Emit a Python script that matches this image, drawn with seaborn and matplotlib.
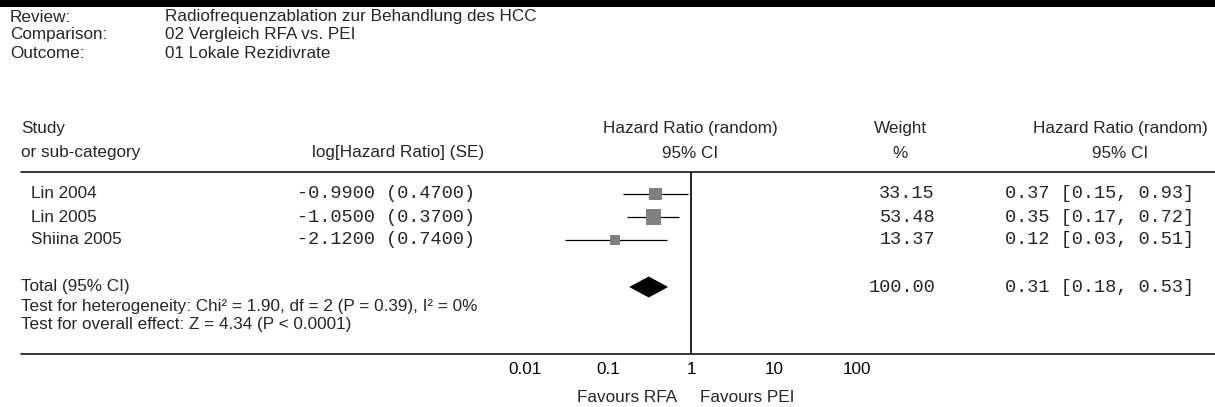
import numpy as np
import pandas as pd
import matplotlib
matplotlib.use("Agg")
import matplotlib.pyplot as plt
import seaborn as sns
from matplotlib.patches import Rectangle
from matplotlib.ticker import NullLocator

# ---------------- data ----------------
review = "Radiofrequenzablation zur Behandlung des HCC"
comparison = "02 Vergleich RFA vs. PEI"
outcome = "01 Lokale Rezidivrate"

studies = ["Lin 2004", "Lin 2005", "Shiina 2005"]
log_hr = [-0.99, -1.05, -2.12]
se = [0.47, 0.37, 0.74]
weights = [33.15, 53.48, 13.37]
hr = [0.37, 0.35, 0.12]
ci_low = [0.15, 0.17, 0.03]
ci_high = [0.93, 0.72, 0.51]

total_weight = 100.00
total_hr = 0.31
total_low = 0.18
total_high = 0.53

heterogeneity = "Test for heterogeneity: Chi\u00b2 = 1.90, df = 2 (P = 0.39), I\u00b2 = 0%"
overall = "Test for overall effect: Z = 4.34 (P < 0.0001)"

tick_values = [0.01, 0.1, 1, 10, 100]
tick_labels = ["0.01", "0.1", "1", "10", "100"]
favours_left = "Favours RFA"
favours_right = "Favours PEI"

# ---------------- style ----------------
sns.set_style("white")
plt.rcParams["font.family"] = ["Liberation Sans", "DejaVu Sans"]
SANS = 12.3
MONO = 13.4
mono = ["Liberation Mono", "DejaVu Sans Mono"]

W, H = 1215, 407
fig = plt.figure(figsize=(W / 100, H / 100), dpi=100)
bg = fig.add_axes([0, 0, 1, 1])
bg.set_xlim(0, W)
bg.set_ylim(H, 0)
bg.axis("off")

# plot panel
x0, x1 = 525, 857
ytop, ybot = 172, 354
ax = fig.add_axes([x0 / W, 1 - ybot / H, (x1 - x0) / W, (ybot - ytop) / H])
ax.patch.set_alpha(0)
ax.set_xscale("log")
ax.set_xlim(0.01, 100)
ax.set_ylim(ybot, ytop)
for s in ax.spines.values():
    s.set_visible(False)
ax.set_yticks([])
ax.set_xticks(tick_values, tick_labels)
ax.xaxis.set_minor_locator(NullLocator())
ax.tick_params(axis="x", direction="inout", length=5, width=1.0, pad=3,
               labelsize=SANS, colors="black")

row0, step = 194, 23
rows = [row0 + i * step for i in range(len(studies))]
total_row = 287

df = pd.DataFrame({"study": studies, "hr": hr, "row": rows, "weight": weights,
                   "lo": ci_low, "hi": ci_high})

ax.hlines(df["row"], df["lo"], df["hi"], color="black", lw=0.9, zorder=2)
sns.scatterplot(data=df, x="hr", y="row", size="weight", sizes=(52, 117),
                size_norm=(min(weights), max(weights)), marker="s",
                color="#808080", edgecolor="none", legend=False, ax=ax, zorder=3)
ax.set_xlabel("")
ax.set_ylabel("")
dh = 10.5
ax.fill([total_low, total_hr, total_high, total_hr],
        [total_row, total_row - dh, total_row, total_row + dh],
        color="black", zorder=3, lw=0)
ax.axvline(1, color="black", lw=1.2, zorder=1)

# ---------------- frame lines ----------------
bg.add_patch(Rectangle((0, 0), W, 7, color="black", lw=0))
bg.plot([21, W], [172, 172], color="black", lw=1.1)
bg.plot([21, W], [354, 354], color="black", lw=1.1)

# ---------------- header ----------------
for y, lab, val in [(17, "Review:", review), (35, "Comparison:", comparison),
                    (53, "Outcome:", outcome)]:
    bg.text(10, y, lab, fontsize=SANS, va="center", ha="left")
    bg.text(165, y, val, fontsize=SANS, va="center", ha="left")

hy1, hy2 = 129, 153
bg.text(21, hy1, "Study", fontsize=SANS, va="center")
bg.text(21, hy2, "or sub-category", fontsize=SANS, va="center")
bg.text(312, hy2, "log[Hazard Ratio] (SE)", fontsize=SANS, va="center")
bg.text(690, hy1, "Hazard Ratio (random)", fontsize=SANS, va="center", ha="center")
bg.text(690, hy2, "95% CI", fontsize=SANS, va="center", ha="center")
bg.text(900, hy1, "Weight", fontsize=SANS, va="center", ha="center")
bg.text(900, hy2, "%", fontsize=SANS, va="center", ha="center")
bg.text(1120, hy1, "Hazard Ratio (random)", fontsize=SANS, va="center", ha="center")
bg.text(1120, hy2, "95% CI", fontsize=SANS, va="center", ha="center")

# ---------------- rows ----------------
for i, y in enumerate(rows):
    bg.text(31, y, studies[i], fontsize=SANS, va="center")
    bg.text(297, y, f"{log_hr[i]:.4f} ({se[i]:.4f})", fontsize=MONO,
            family=mono, va="center")
    bg.text(935, y, f"{weights[i]:.2f}", fontsize=MONO, family=mono,
            va="center", ha="right")
    bg.text(1005, y, f"{hr[i]:.2f} [{ci_low[i]:.2f}, {ci_high[i]:.2f}]",
            fontsize=MONO, family=mono, va="center")

bg.text(21, total_row, "Total (95% CI)", fontsize=SANS, va="center")
bg.text(935, total_row, f"{total_weight:.2f}", fontsize=MONO, family=mono,
        va="center", ha="right")
bg.text(1005, total_row, f"{total_hr:.2f} [{total_low:.2f}, {total_high:.2f}]",
        fontsize=MONO, family=mono, va="center")
bg.text(21, 306, heterogeneity, fontsize=SANS, va="center")
bg.text(21, 325, overall, fontsize=SANS, va="center")

bg.text(677, 397, favours_left, fontsize=SANS, va="center", ha="right")
bg.text(700, 397, favours_right, fontsize=SANS, va="center", ha="left")

fig.savefig("out.png", dpi=100)
